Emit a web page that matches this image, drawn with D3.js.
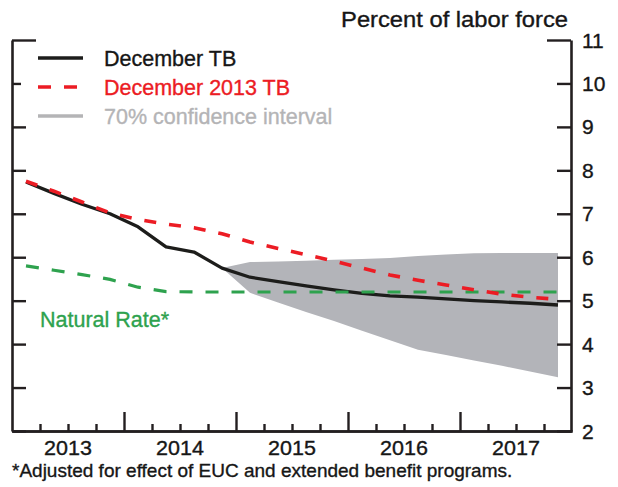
<!DOCTYPE html>
<html>
<head>
<meta charset="utf-8">
<script src="https://cdn.jsdelivr.net/npm/d3@7"></script>
<style>
  html, body { margin: 0; padding: 0; background: #fff; }
  svg { display: block; }
  text { font-family: "Liberation Sans", Arial, Helvetica, sans-serif; }
</style>
</head>
<body>
<svg id="chart" width="618" height="487"></svg>
<script>
// ---- data ----
const quarters = ["2013Q1","2013Q2","2013Q3","2013Q4","2014Q1","2014Q2","2014Q3","2014Q4",
                  "2015Q1","2015Q2","2015Q3","2015Q4","2016Q1","2016Q2","2016Q3","2016Q4",
                  "2017Q1","2017Q2","2017Q3","2017Q4"];
const decemberTB = [7.73, 7.47, 7.22, 7.00, 6.70, 6.24, 6.12, 5.75,
                    5.54, 5.44, 5.34, 5.25, 5.17, 5.11, 5.08, 5.04,
                    5.00, 4.97, 4.94, 4.90];
const december2013TB = [7.75, 7.52, 7.27, 7.02, 6.87, 6.76, 6.68, 6.54,
                        6.35, 6.20, 6.06, 5.91, 5.75, 5.59, 5.47, 5.36,
                        5.25, 5.15, 5.08, 5.03];
const naturalRate = [5.80, 5.70, 5.60, 5.49, 5.31, 5.21, 5.20, 5.20,
                     5.20, 5.20, 5.20, 5.20, 5.20, 5.20, 5.20, 5.20,
                     5.20, 5.20, 5.20, 5.20];
const bandQuarters = ["2014Q4","2015Q1","2015Q2","2015Q3","2015Q4","2016Q1","2016Q2",
                      "2016Q3","2016Q4","2017Q1","2017Q2","2017Q3","2017Q4"];
const bandUpper = [5.75, 5.89, 5.90, 5.92, 5.94, 5.96, 5.98, 6.03, 6.06, 6.09, 6.10, 6.10, 6.10];
const bandLower = [5.75, 5.18, 4.96, 4.74, 4.53, 4.31, 4.09, 3.87, 3.75, 3.62, 3.50, 3.37, 3.24];
const yTicks = [2, 3, 4, 5, 6, 7, 8, 9, 10, 11];
const yearLabels = ["2013", "2014", "2015", "2016", "2017"];
const legendLabels = ["December TB", "December 2013 TB", "70% confidence interval"];
const unitLabel = "Percent of labor force";
const naturalLabel = "Natural Rate*";
const footnote = "*Adjusted for effect of EUC and extended benefit programs.";

// ---- helpers ----
const qToNum = q => +q.slice(0, 4) + (+q.slice(5) - 0.5) / 4;

const svg = d3.select("#chart");
const x = d3.scaleLinear().domain([2013, 2018]).range([12, 572]);
const y = d3.scaleLinear().domain([2, 11]).range([431, 40]);

const colBlack = "#1d1d1b", colRed = "#ec1c24", colGreen = "#2ea24e", colBand = "#b3b4b9",
      colAxis = "#231f20", colGray = "#b4b4b6", colText = "#161616";

function txt(g, tx, ty, str, size, fill, anchor, sx) {
  return g.append("text")
    .attr("transform", `translate(${tx},${ty}) scale(${sx || 1},1)`)
    .attr("text-anchor", anchor || "start")
    .attr("font-size", size)
    .attr("fill", fill)
    .attr("stroke", fill)
    .attr("stroke-width", 0.35)
    .text(str);
}

// ---- band ----
const bandData = bandQuarters.map((q, i) => ({ t: qToNum(q), hi: bandUpper[i], lo: bandLower[i] }));
svg.append("path")
  .datum(bandData)
  .attr("fill", colBand)
  .attr("d", d3.area().x(d => x(d.t)).y0(d => y(d.lo)).y1(d => y(d.hi)));

// ---- lines ----
const line = d3.line().x(d => x(d.t)).y(d => y(d.v));
const series = (vals) => quarters.map((q, i) => ({ t: qToNum(q), v: vals[i] }));

svg.append("path").datum(series(decemberTB))
  .attr("fill", "none").attr("stroke", colBlack).attr("stroke-width", 3.3)
  .attr("stroke-linejoin", "round").attr("d", line);

svg.append("path").datum(series(naturalRate))
  .attr("fill", "none").attr("stroke", colGreen).attr("stroke-width", 3.2)
  .attr("stroke-dasharray", "13,13").attr("d", line);

svg.append("path").datum(series(december2013TB))
  .attr("fill", "none").attr("stroke", colRed).attr("stroke-width", 3.6)
  .attr("stroke-dasharray", "12,13").attr("d", line);

// ---- axes ----
const leftAxis = d3.axisRight(y).tickValues(yTicks).tickSize(14).tickSizeOuter(0).tickFormat("");
const gl = svg.append("g").attr("transform", "translate(12,0)").call(leftAxis);
const rightAxis = d3.axisLeft(y).tickValues(yTicks).tickSize(14).tickSizeOuter(0).tickFormat("");
const gr = svg.append("g").attr("transform", "translate(571,0)").call(rightAxis);
[gl, gr].forEach(g => {
  g.select(".domain").attr("stroke", colAxis).attr("stroke-width", 2.6);
  g.selectAll(".tick line").attr("stroke", colAxis).attr("stroke-width", 2.4);
  g.selectAll(".tick").filter(d => d === 11).select("line").attr("x2", g === gl ? 24 : -24);
});
// legend box background clips the left tick at 10 (as in reference)
svg.append("rect").attr("x", 21).attr("y", 70).attr("width", 12).attr("height", 30).attr("fill", "#fff");

const quarterBounds = d3.range(2013.25, 2018, 0.25).filter(v => Math.abs(v - Math.round(v)) > 1e-6);
const yearBounds = [2014, 2015, 2016, 2017];
const gbMinor = svg.append("g").attr("transform", "translate(0,431)")
  .call(d3.axisTop(x).tickValues(quarterBounds).tickSize(7).tickSizeOuter(0).tickFormat(""));
const gbMajor = svg.append("g").attr("transform", "translate(0,431)")
  .call(d3.axisTop(x).tickValues(yearBounds).tickSize(19).tickSizeOuter(0).tickFormat(""));
[gbMinor, gbMajor].forEach(g => {
  g.select(".domain").attr("stroke", colAxis).attr("stroke-width", 2.6);
  g.selectAll(".tick line").attr("stroke", colAxis).attr("stroke-width", 2.4);
});

// ---- labels ----
const lab = svg.append("g");
yTicks.forEach(v => txt(lab, 582, y(v) + 7.5, String(v), 21, colText));
yearLabels.forEach(yr => txt(lab, x(+yr + 0.5), 455, yr, 20.5, colText, "middle", 1.05));
txt(lab, 568, 27, unitLabel, 22, colText, "end", 1.08);
txt(lab, 40, 327, naturalLabel, 21.5, colGreen, "start", 1.0);
txt(lab, 12, 477, footnote, 19, colText, "start", 1.0);

// ---- legend ----
const lg = svg.append("g");
const legendRows = [
  { y: 58, color: colBlack, dash: null, w: 3.3, text: legendLabels[0], tc: colText },
  { y: 87, color: colRed, dash: "13,13", w: 3.6, text: legendLabels[1], tc: colRed },
  { y: 116, color: colGray, dash: null, w: 3.6, text: legendLabels[2], tc: colGray }
];
legendRows.forEach(r => {
  lg.append("line").attr("x1", 38).attr("x2", 83).attr("y1", r.y).attr("y2", r.y)
    .attr("stroke", r.color).attr("stroke-width", r.w)
    .attr("stroke-dasharray", r.dash);
  txt(lg, 104, r.y + 7.5, r.text, 21.5, r.tc, "start", 1.0);
});
</script>
</body>
</html>
